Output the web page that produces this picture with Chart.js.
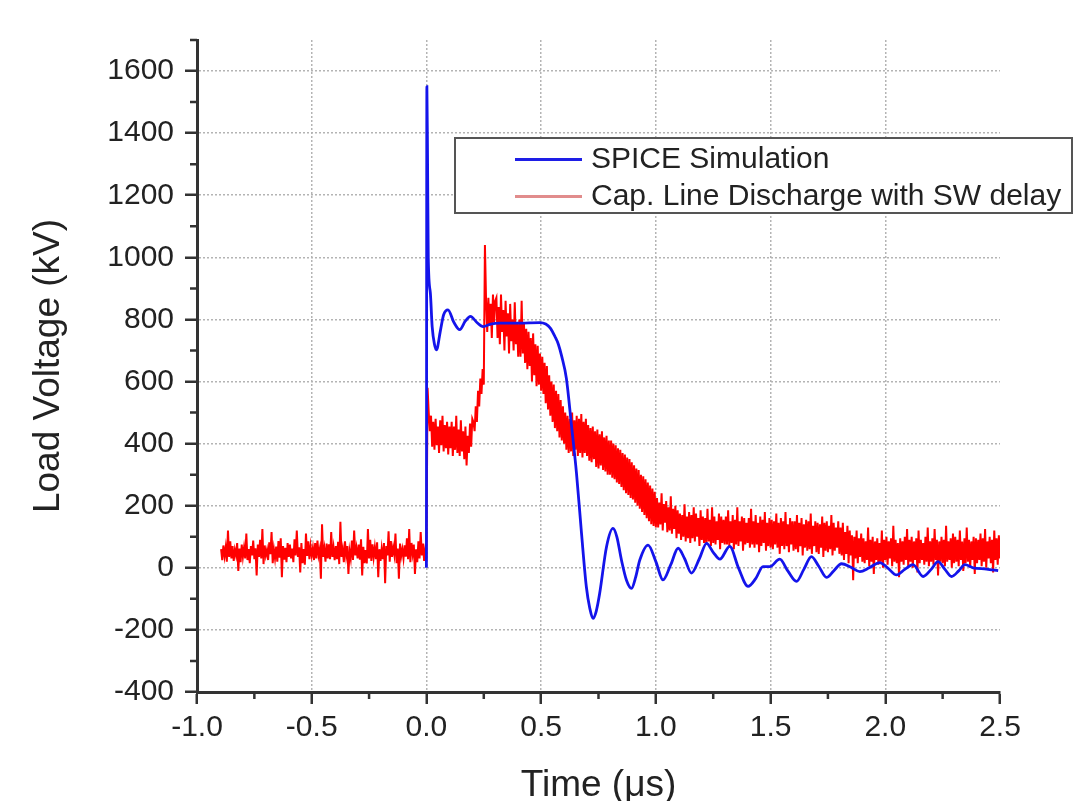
<!DOCTYPE html>
<html>
<head>
<meta charset="utf-8">
<script src="https://cdn.jsdelivr.net/npm/chart.js@4.4.0/dist/chart.umd.min.js"></script>
<style>
html,body{margin:0;padding:0;background:#fff;}
canvas{display:block;}
</style>
</head>
<body>
<canvas id="c" width="1077" height="801"></canvas>
<script>
// ---------------- data ----------------
const seriesNames = ['SPICE Simulation', 'Cap. Line Discharge with SW delay'];

const xTickValues = [-1.0, -0.5, 0.0, 0.5, 1.0, 1.5, 2.0, 2.5];
const xTickLabels = ['-1.0', '-0.5', '0.0', '0.5', '1.0', '1.5', '2.0', '2.5'];
const xMinorTicks = [-0.75, -0.25, 0.25, 0.75, 1.25, 1.75, 2.25];

const yTickValues = [-400, -200, 0, 200, 400, 600, 800, 1000, 1200, 1400, 1600];
const yTickLabels = ['-400', '-200', '0', '200', '400', '600', '800', '1000', '1200', '1400', '1600'];
const yMinorTicks = [-300, -100, 100, 300, 500, 700, 900, 1100, 1300, 1500, 1700];

// SPICE simulation (time in us, voltage in kV)
const blueTimes = [0, 0.002, 0.005, 0.008, 0.017, 0.025, 0.035, 0.044, 0.06, 0.075,
  0.094, 0.12, 0.145, 0.17, 0.192, 0.22, 0.247, 0.28, 0.32, 0.4,
  0.494, 0.52, 0.54, 0.56, 0.575, 0.59, 0.61, 0.632, 0.654, 0.676, 0.697,
  0.712, 0.726, 0.74, 0.755, 0.785, 0.813, 0.83, 0.85, 0.872, 0.894,
  0.912, 0.93, 0.966, 1.0, 1.031, 1.065, 1.097, 1.125, 1.155, 1.19,
  1.221, 1.25, 1.279, 1.322, 1.36, 1.402, 1.435, 1.467, 1.497, 1.54,
  1.575, 1.613, 1.645, 1.678, 1.71, 1.744, 1.775, 1.809, 1.85, 1.889,
  1.93, 1.976, 2.01, 2.049, 2.085, 2.121, 2.165, 2.2, 2.23, 2.26,
  2.289, 2.32, 2.347, 2.383, 2.441, 2.492];
const blueValues = [0, 1550, 1300, 1000, 886, 777, 720, 702, 760, 815,
  831, 790, 767, 795, 810, 790, 777, 785, 788, 788,
  790, 785, 772, 745, 720, 680, 610, 460, 305, 111, -61,
  -130, -163, -140, -83, 68, 127, 100, 25, -40, -66,
  -30, 25, 73, 20, -39, 10, 63, 30, -17, 30,
  79, 50, 28, 69, 0, -60, -35, 4, 4, 28,
  -10, -44, -5, 36, 5, -31, -10, 13, 2, -12,
  0, 17, 0, -23, -5, 10, -28, -5, 20, -5,
  -28, -10, 10, 0, -4, -9];

// Measured capacitor line discharge, sampled every 0.005 us from -0.895 us
const redStart = -0.895;
const redStep = 0.005;
const redValues = [
  60, 25, 72, 38, 66, 20, 120, 35, 85, 30,   70, 22, 58, 40, 80, -10, 62, 18, 75, 35,
  65, 30, 110, 25, 60, 15, 70, 40, 88, 28,   63, -25, 75, 35, 90, 30, 125, 12, 72, 40,
  58, 25, 82, 44, 115, 15, 60, 30, 68, 20,   86, 33, 95, -30, 70, 26, 64, 18, 80, 35,
  75, 30, 62, 18, 92, 40, 120, 35, 66, -15,  80, 15, 60, 10, 110, 38, 85, 28, 70, 40,
  64, 25, 80, 30, 88, 40, 60, -35, 140, 35,  62, 20, 78, 30, 76, 28, 115, 35, 66, 25,
  70, 28, 84, 12, 148, 35, 60, 18, 85, 40,   70, -20, 54, 30, 88, 25, 120, 40, 65, 30,
  75, 26, 92, -25, 68, 15, 57, 14, 125, 30,  90, 22, 76, 34, 66, 28, 82, -30, 60, 22,
  62, 28, 80, -50, 70, 40, 118, 20, 86, 35,  66, 42, 110, 15, 62, -35, 78, 38, 60, 30,
  72, 36, 95, 28, 125, 18, 80, 45, 75, -20,  60, 18, 85, 30, 115, 40, 78, 22, 60, 45,
  580, 500, 440, 490, 390, 470, 380, 480, 395, 455,   370, 475, 395, 490, 375, 460, 385, 470, 365, 455,
  385, 470, 360, 455, 380, 490, 370, 445, 360, 475,   375, 440, 350, 455, 330, 425, 370, 465, 390, 480,
  470, 440, 520, 470, 570, 520, 610, 560, 640, 590,   1040, 860, 760, 870, 780, 850, 740, 880, 790, 860,
  870, 740, 840, 720, 880, 760, 830, 700, 860, 745,   820, 690, 850, 730, 800, 700, 855, 720, 790, 680,
  800, 680, 860, 690, 790, 660, 770, 640, 760, 650,   740, 600, 755, 620, 720, 585, 715, 590, 690, 570,
  680, 560, 660, 530, 650, 510, 620, 490, 600, 470,   590, 450, 570, 440, 560, 420, 540, 410, 520, 400,
  500, 380, 490, 370, 480, 375, 500, 360, 475, 380,   490, 360, 480, 370, 495, 355, 470, 370, 480, 360,
  460, 345, 450, 340, 455, 350, 440, 325, 445, 320,   430, 330, 440, 315, 420, 310, 425, 300, 410, 300,
  410, 290, 400, 285, 395, 275, 385, 270, 380, 260,   370, 250, 365, 240, 355, 235, 350, 225, 340, 220,
  330, 210, 320, 200, 315, 190, 300, 180, 295, 170,   285, 160, 275, 150, 265, 140, 255, 135, 245, 130,
  225, 130, 210, 140, 240, 120, 205, 145, 215, 115,   195, 120, 230, 110, 190, 125, 200, 95, 185, 110,
  175, 90, 170, 100, 205, 85, 165, 95, 180, 80,       170, 95, 195, 85, 175, 100, 160, 70, 185, 90,
  165, 80, 160, 75, 190, 85, 155, 70, 195, 80,        165, 75, 150, 90, 175, 60, 165, 80, 155, 75,
  165, 75, 185, 70, 150, 80, 170, 60, 155, 75,        195, 70, 150, 85, 165, 55, 160, 75, 145, 80,
  160, 65, 190, 75, 150, 65, 170, 75, 145, 50,        165, 70, 155, 80, 180, 55, 145, 70, 160, 65,
  155, 60, 150, 75, 175, 65, 145, 45, 160, 70,        150, 60, 180, 70, 140, 50, 160, 75, 150, 55,
  150, 60, 170, 50, 145, 70, 160, 40, 140, 65,        155, 55, 150, 60, 175, 45, 135, 70, 150, 50,
  145, 45, 140, 65, 165, 35, 145, 55, 150, 50,        135, 60, 170, 40, 145, 55, 130, 65, 150, 45,
  130, 40, 145, 25, 115, 45, 135, 15, 120, 40,        105, -40, 100, 30, 120, 15, 95, 35, 110, 20,
  95, 15, 85, 25, 130, 5, 90, 20, 100, -20,           85, 25, 95, 10, 80, 20, 120, 0, 90, 25,
  100, 10, 85, 30, 95, 5, 135, 20, 90, 15,            80, -30, 95, 20, 85, 10, 100, 25, 125, 5,
  90, 20, 100, 0, 85, 25, 95, -15, 120, 15,           90, 25, 80, 10, 100, 20, 130, 5, 85, 20,
  95, 10, 125, 25, 90, -25, 85, 20, 100, 15,          90, 5, 135, 20, 85, 25, 95, 0, 110, 15,
  100, 20, 90, 5, 120, 25, 85, -10, 95, 15,           130, 20, 90, 0, 85, 25, 100, -20, 95, 15,
  90, 25, 110, 5, 95, 20, 125, 0, 85, 30,             100, 15, 90, -15, 120, 25, 95, 10, 105, 30
];

// ---------------- chart ----------------
const FONT = '"Liberation Sans", Arial, Helvetica, sans-serif';
const bluePoints = blueTimes.map((t, i) => ({x: t, y: blueValues[i]}));
const redPoints = redValues.map((v, i) => ({x: +(redStart + i * redStep).toFixed(4), y: v}));
const GRID = '#b4b4b4';
const NONE = 'rgba(0,0,0,0)';

const minorTicksPlugin = {
  id: 'minorTicks',
  afterDraw(chart) {
    const ctx = chart.ctx, xs = chart.scales.x, ys = chart.scales.y, a = chart.chartArea;
    ctx.save();
    ctx.strokeStyle = '#333';
    ctx.lineWidth = 2.5;
    ctx.beginPath();
    yMinorTicks.forEach(v => { const p = ys.getPixelForValue(v); ctx.moveTo(a.left - 7, p); ctx.lineTo(a.left, p); });
    xMinorTicks.forEach(v => { const p = xs.getPixelForValue(v); ctx.moveTo(p, a.bottom); ctx.lineTo(p, a.bottom + 7); });
    ctx.stroke();
    ctx.restore();
  }
};

const boxLegendPlugin = {
  id: 'boxLegend',
  afterDraw(chart, args, o) {
    const ctx = chart.ctx;
    ctx.save();
    ctx.fillStyle = '#fff';
    ctx.fillRect(o.x, o.y, o.w, o.h);
    ctx.strokeStyle = '#555';
    ctx.lineWidth = 2;
    ctx.strokeRect(o.x, o.y, o.w, o.h);
    chart.data.datasets.forEach((ds, i) => {
      const yy = o.rowY[i];
      ctx.strokeStyle = o.sampleColors[i];
      ctx.lineWidth = 3;
      ctx.beginPath();
      ctx.moveTo(o.lineX1, yy);
      ctx.lineTo(o.lineX2, yy);
      ctx.stroke();
      ctx.fillStyle = '#222';
      ctx.font = '30px ' + FONT;
      ctx.textBaseline = 'middle';
      ctx.textAlign = 'left';
      ctx.fillText(ds.label, o.textX, yy);
    });
    ctx.restore();
  }
};

new Chart(document.getElementById('c'), {
  type: 'line',
  data: {
    datasets: [
      { label: seriesNames[0], data: bluePoints, borderColor: 'rgb(20,20,235)', borderWidth: 2.8,
        pointRadius: 0, cubicInterpolationMode: 'monotone', fill: false },
      { label: seriesNames[1], data: redPoints, borderColor: 'rgb(255,0,0)', borderWidth: 2,
        pointRadius: 0, tension: 0, fill: false }
    ]
  },
  options: {
    responsive: false,
    animation: false,
    devicePixelRatio: 1,
    layout: { padding: { top: 40, right: 77, bottom: 0, left: 0 } },
    plugins: {
      legend: { display: false },
      tooltip: { enabled: false },
      boxLegend: { x: 455, y: 138, w: 617, h: 75, rowY: [159.5, 196.5], lineX1: 515, lineX2: 582, textX: 591,
                   sampleColors: ['rgb(30,30,230)', 'rgb(225,140,140)'] }
    },
    scales: {
      x: {
        type: 'linear', min: -1, max: 2.5,
        afterBuildTicks: s => { s.ticks = xTickValues.map(v => ({value: v})); },
        afterFit: s => { s.height = 109; },
        ticks: { callback: v => xTickLabels[xTickValues.indexOf(v)], font: {size: 30, family: FONT},
                 color: '#222', padding: 6, maxRotation: 0, autoSkip: false },
        grid: { color: c => (c.tick && (c.tick.value === -1 || c.tick.value === 2.5)) ? NONE : GRID,
                lineWidth: 1.5, tickColor: '#333', tickWidth: 2.5, tickLength: 12 },
        border: { display: true, color: '#333', width: 3, dash: [2, 2] },
        title: { display: true, text: 'Time (μs)', font: {size: 37, family: FONT, lineHeight: 0.8},
                 color: '#222', padding: 0 }
      },
      y: {
        type: 'linear', min: -400, max: 1700,
        afterBuildTicks: s => { s.ticks = yTickValues.map(v => ({value: v})); },
        afterFit: s => { s.width = 197; },
        ticks: { callback: v => yTickLabels[yTickValues.indexOf(v)], font: {size: 30, family: FONT},
                 color: '#222', padding: 11, autoSkip: false },
        grid: { color: c => (c.tick && c.tick.value === -400) ? NONE : GRID,
                lineWidth: 1.5, tickColor: '#333', tickWidth: 2.5, tickLength: 12 },
        border: { display: true, color: '#333', width: 3, dash: [2, 2] },
        title: { display: true, text: 'Load Voltage (kV)', font: {size: 37, family: FONT, lineHeight: 1},
                 color: '#222', padding: {top: 30, bottom: 0} }
      }
    }
  },
  plugins: [minorTicksPlugin, boxLegendPlugin]
});
</script>
</body>
</html>
